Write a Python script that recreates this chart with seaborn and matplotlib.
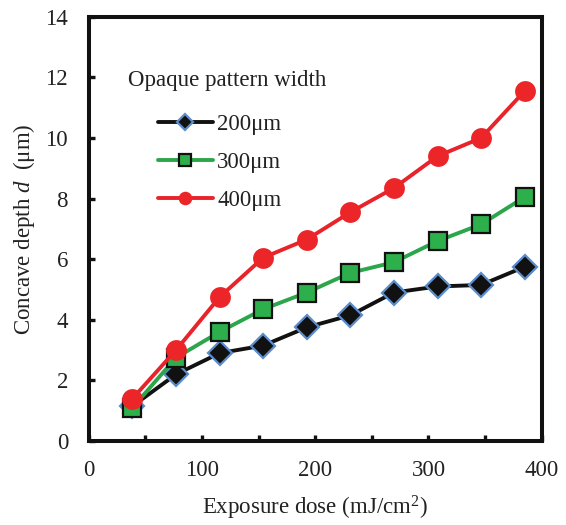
import matplotlib
matplotlib.use("Agg")
import matplotlib.pyplot as plt
import seaborn as sns
import pandas as pd
from matplotlib.ticker import MultipleLocator

dose = [38.5, 77, 115.5, 154, 192.5, 231, 269.5, 308, 346.5, 385]
depth_200 = [1.15, 2.2, 2.9, 3.15, 3.75, 4.15, 4.9, 5.1, 5.15, 5.75]
depth_300 = [1.1, 2.75, 3.6, 4.35, 4.9, 5.55, 5.9, 6.6, 7.15, 8.05]
depth_400 = [1.4, 3.0, 4.75, 6.05, 6.65, 7.55, 8.35, 9.4, 10.0, 11.55]
series_labels = ["200μm", "300μm", "400μm"]
legend_title = "Opaque pattern width"
x_ticks = [0, 100, 200, 300, 400]
y_ticks = [0, 2, 4, 6, 8, 10, 12, 14]

sns.set_theme(style="white")
plt.rcParams["font.family"] = ["Liberation Serif", "DejaVu Serif"]
plt.rcParams["mathtext.fontset"] = "custom"
plt.rcParams["mathtext.rm"] = "Liberation Serif"
plt.rcParams["mathtext.it"] = "Liberation Serif:italic"

FS = 16.5
fig = plt.figure(figsize=(5.66, 5.25), dpi=100)
ax = fig.add_axes([0.157, 0.160, 0.800, 0.808])

styles = [
    dict(color="#111111", marker="D", markersize=12.5, markerfacecolor="#111111",
         markeredgecolor="#5b8ccc", markeredgewidth=1.6),
    dict(color="#2ca64a", marker="s", markersize=13.5, markerfacecolor="#2db04b",
         markeredgecolor="#111111", markeredgewidth=1.6),
    dict(color="#e8232a", marker="o", markersize=15, markerfacecolor="#ec2529",
         markeredgecolor="#ec2529", markeredgewidth=0),
]
for vals, lab, st in zip([depth_200, depth_300, depth_400], series_labels, styles):
    df = pd.DataFrame({"dose": dose, "depth": vals})
    sns.lineplot(data=df, x="dose", y="depth", ax=ax, label=lab, linewidth=2.8,
                 **st)

ax.set_xlim(0, 400)
ax.set_ylim(0, 14)
ax.set_xticks(x_ticks)
ax.set_yticks(y_ticks)
ax.xaxis.set_minor_locator(MultipleLocator(50))
ax.tick_params(axis="both", which="both", direction="in", length=4, width=2.4,
               colors="#111111", labelsize=FS, labelcolor="#222222")
ax.tick_params(axis="x", which="major", pad=14)
ax.tick_params(axis="y", which="major", pad=15)
ax.tick_params(axis="x", which="both", bottom=True)
ax.tick_params(axis="y", which="both", left=True)
for sp in ax.spines.values():
    sp.set_linewidth(2.9)
    sp.set_color("#111111")

ax.set_xlabel("Exposure dose (mJ/cm$^2$)", fontsize=FS, color="#222222", labelpad=9)
ax.set_ylabel(r"Concave depth $\it{d}$  (μm)", fontsize=FS, color="#222222", labelpad=6)

ax.text(0.086, 0.849, legend_title, transform=ax.transAxes, fontsize=FS,
        color="#222222", va="center", ha="left")
leg = ax.legend(loc="upper left", bbox_to_anchor=(0.152, 0.771), frameon=False,
                fontsize=FS, handlelength=2.4, handletextpad=0.2, markerscale=0.65,
                labelspacing=0.75, borderaxespad=0, borderpad=0)
for t in leg.get_texts():
    t.set_color("#222222")

fig.savefig("out.png", dpi=100)
